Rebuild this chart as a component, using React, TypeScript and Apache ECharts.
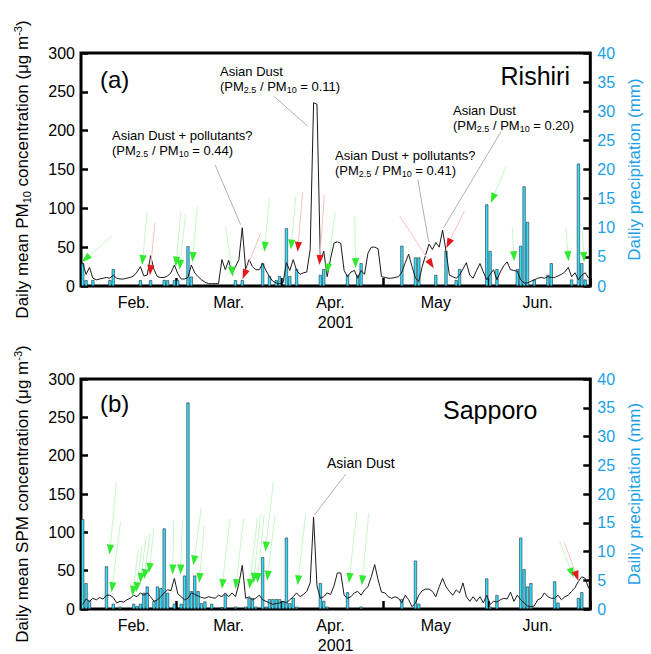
import React, { useEffect, useRef } from 'react';
import * as echarts from 'echarts';

const FONT = '"Liberation Sans", Arial, Helvetica, sans-serif';
const BAR_FILL = '#38dcff';
const RAIN_BLUE = '#1ba1e6';

// ---------- axes / categories ----------
const monthLengths = [28, 31, 30, 31, 30];
const monthNames = ['Feb.', 'Mar.', 'Apr.', 'May', 'Jun.'];
const monthLabelAt = [15, 43, 73, 104, 134];
const yearLabel = '2001';
const concTicks = { min: 0, max: 300, interval: 50 };
const rainTicks = { min: 0, max: 40, interval: 5 };

// ---------- (a) Rishiri ----------
const rishiriPM10 = [
  30, 15, 24, 10, 8, 9, 10, 11, 10, 14,
  10, 9, 9, 10, 11, 13, 18, 25, 13, 14,
  39, 21, 12, 11, 11, 13, 17, 27, 16, 9,
  9, 11, 27, 17, 12, 8, 5, 3, 3, 3,
  3, 34, 21, 33, 16, 25, 34, 75, 21, 34,
  25, 21, 21, 29, 20, 12, 6, 4, 3, 4,
  30, 20, 34, 20, 15, 17, 18, 47, 236, 234,
  32, 45, 12, 35, 55, 57, 55, 20, 12, 18,
  20, 10, 20, 15, 42, 50, 50, 48, 12, 11,
  10, 10, 11, 12, 18, 30, 41, 25, 10, 6,
  25, 40, 54, 47, 56, 50, 72, 45, 14, 12,
  10, 14, 22, 30, 14, 10, 20, 29, 18, 8,
  15, 21, 8, 18, 26, 31, 21, 20, 19, 8,
  4, 4, 6, 8, 10, 11, 10, 12, 11, 11,
  13, 15, 18, 24, 12, 17, 8, 14, 17, 10,
];
const rishiriRain = [
  3.9, 1.0, 0, 1.0, 0, 0, 0, 0, 1.0, 2.9,
  0, 0, 0, 0, 0, 0, 0, 1.0, 0, 0,
  1.0, 0, 0, 0, 1.0, 1.0, 0, 1.0, 1.0, 0,
  0, 6.8, 1.6, 0, 0, 0, 0, 0, 0, 0,
  0, 0, 0, 0, 0, 1.0, 0, 1.0, 0, 0,
  0, 0, 0, 3.9, 0, 1.7, 0, 1.0, 1.7, 0,
  9.9, 1.7, 0, 2.9, 0, 0, 0, 0, 0, 0,
  1.9, 2.9, 0, 0, 0, 0, 0, 0, 1.9, 0,
  0, 1.9, 3.9, 0, 0, 0, 0, 0, 0, 0,
  0, 0, 0, 0, 6.9, 0, 0, 0, 4.9, 4.9,
  0, 0, 0, 0, 1.9, 0, 0, 6.0, 0, 0,
  1.0, 2.9, 0, 0, 0, 0, 0, 0, 0, 14.0,
  6.0, 0, 2.9, 0, 0, 0, 0, 0, 2.9, 6.9,
  17.1, 11.0, 0, 1.1, 0, 0, 0, 1.9, 3.9, 0,
  0, 0, 0, 0, 1.1, 0, 21.0, 3.9, 1.1, 0,
];
// arrows: [day position, concentration at tip, tail dx, tail dy, 0 = green / 1 = red]
const rishiriArrows = [
  [0.3, 31, 30, -26, 0], [18.0, 27, 5, -53, 0], [20.3, 14, 5, -52, 1],
  [27.9, 25, 5, -55, 0], [29.0, 21, 6, -55, 0], [32.8, 31, 5, -55, 0],
  [44.7, 12, -7, -50, 0], [47.6, 9, 18, -46, 1], [54.0, 44, 5, -53, 0],
  [61.8, 47, 5, -53, 0], [63.8, 44, 5, -60, 1], [70.2, 27, 5, -70, 1],
  [72.5, 16, 8, -62, 0], [80.9, 23, -1, -52, 0], [103.9, 23, -34, -52, 1],
  [107.6, 49, 18, -37, 1], [120.7, 107, 15, -36, 0], [127.6, 32, -2, -34, 0],
  [143.6, 32, -3, -34, 0], [148.2, 31, -2, -32, 0],
];
// leader lines: [day1, conc1, day2, conc2]
const rishiriLeaders = [
  [39.5, 156, 47.0, 79], [56.9, 244, 66.7, 206],
  [99.2, 137, 102.4, 57], [123.6, 198, 106.8, 75],
];

// ---------- (b) Sapporo ----------
const sapporoSPM = [
  6, 13, 10, 14, 12, 15, 13, 18, 18, 15,
  8, 10, 9, 12, 14, 18, 16, 21, 18, 21,
  16, 10, 12, 16, 21, 25, 24, 40, 20, 16,
  12, 14, 21, 19, 17, 15, 14, 16, 15, 14,
  18, 16, 21, 16, 21, 16, 33, 57, 14, 16,
  12, 14, 18, 12, 10, 8, 6, 7, 8, 10,
  8, 12, 16, 21, 16, 19, 23, 34, 120, 30,
  14, 16, 21, 19, 30, 47, 47, 18, 14, 16,
  21, 23, 18, 25, 29, 42, 58, 38, 22, 21,
  16, 14, 16, 14, 8, 18, 12, 3, 8, 18,
  24, 26, 26, 23, 16, 29, 40, 29, 23, 18,
  25, 21, 34, 16, 10, 16, 10, 16, 8, 18,
  6, 10, 9, 12, 14, 13, 22, 10, 18, 12,
  8, 4, 3, 4, 12, 14, 21, 16, 14, 14,
  18, 12, 16, 18, 23, 28, 36, 42, 40, 27,
];
const sapporoRain = [
  15.6, 4.5, 1.4, 0, 0, 0, 0, 7.4, 0, 0.9,
  0, 0.4, 0, 0, 0, 0.9, 0.5, 0.9, 2.8, 3.9,
  0, 1.4, 3.9, 3.6, 14.0, 2.8, 0, 0.9, 0, 0.9,
  5.8, 35.9, 3.1, 5.8, 3.1, 1.0, 1.3, 0, 0.9, 0,
  0, 0.3, 2.5, 0, 0, 0.4, 0, 0, 0.4, 1.9,
  1.9, 0.4, 0, 9.0, 0.4, 1.7, 1.7, 1.7, 1.7, 1.3,
  12.4, 1.0, 1.9, 0.4, 0, 0, 0, 0, 0, 0,
  4.5, 1.4, 0.4, 0, 0, 0, 0, 0, 2.9, 0,
  0, 0, 0.4, 0, 0, 0, 0, 0, 0, 0,
  0, 0, 0, 0, 1.7, 0, 0, 0, 8.4, 0.9,
  0, 0, 0, 0, 0, 0, 0, 0, 0, 0,
  0, 0, 0, 0, 0, 0, 0, 0, 0, 5.3,
  0.4, 0, 2.4, 0, 0, 0, 0, 0, 0, 12.4,
  6.9, 3.9, 4.5, 0, 0, 0, 0, 0, 0, 4.8,
  1.1, 0, 0, 0, 0, 0, 1.9, 2.9, 0, 0,
];
const sapporoArrows = [
  [8.4, 71, 7, -72, 0], [9.0, 22, 9, -70, 0], [15.1, 17, 6, -46, 0],
  [16.2, 22, 6, -46, 0], [17.4, 34, 6, -46, 0], [18.6, 39, 6, -46, 0],
  [20.0, 47, 5, -44, 0], [27.0, 45, 1, -54, 0], [29.3, 45, 2, -54, 0],
  [33.1, 57, 8, -58, 0], [34.8, 34, 5, -57, 0], [41.5, 26, 8, -70, 0],
  [45.5, 26, 8, -70, 0], [49.6, 26, 8, -71, 0], [50.8, 34, 7, -69, 0],
  [51.9, 34, 7, -69, 0], [54.3, 75, 8, -70, 0], [54.8, 37, 8, -66, 0],
  [63.8, 31, 8, -71, 0], [78.9, 34, 8, -71, 0], [82.7, 31, 7, -72, 0],
  [145.1, 41, -14, -36, 0], [146.5, 37, -14, -38, 1],
];
const sapporoLeaders = [[78.0, 176, 68.8, 123]];

// ---------- helpers ----------
const categories: string[] = [];
const monthStarts: number[] = [];
monthLengths.forEach((len, m) => {
  monthStarts.push(categories.length);
  for (let d = 1; d <= len; d++) categories.push(`${m + 2}/${d}`);
});
const totalDays = categories.length;

const GRIDS = [
  { left: 81, top: 53, width: 517, height: 233 },
  { left: 81, top: 379, width: 517, height: 232 },
];

const arrowRender = (_p: any, api: any) => {
  const tip = api.coord([api.value(0), api.value(1)]);
  const dx = api.value(2);
  const dy = api.value(3);
  const red = api.value(4) === 1;
  const len = Math.hypot(dx, dy) || 1;
  const ux = dx / len;
  const uy = dy / len;
  const L = 10;
  const W = 3.6;
  const bx = tip[0] + ux * L;
  const by = tip[1] + uy * L;
  return {
    type: 'group',
    children: [
      {
        type: 'line',
        shape: { x1: bx, y1: by, x2: tip[0] + dx, y2: tip[1] + dy },
        style: { stroke: red ? '#f8c2c2' : '#c8f7c8', lineWidth: 1 },
      },
      {
        type: 'polygon',
        shape: { points: [[tip[0], tip[1]], [bx - uy * W, by + ux * W], [bx + uy * W, by - ux * W]] },
        style: { fill: red ? '#e3191c' : '#30ea30' },
      },
    ],
  };
};

const leaderRender = (_p: any, api: any) => {
  const a = api.coord([api.value(0), api.value(1)]);
  const b = api.coord([api.value(2), api.value(3)]);
  return {
    type: 'line',
    shape: { x1: a[0], y1: a[1], x2: b[0], y2: b[1] },
    style: { stroke: '#9c9c9c', lineWidth: 0.8 },
  };
};

const richSubSup = {
  sub: { fontSize: 11, fontFamily: FONT, verticalAlign: 'bottom', color: '#000' },
  sup: { fontSize: 11, fontFamily: FONT, verticalAlign: 'top', color: '#000' },
};

const makeText = (text: string, x: number, y: number, size: number, align: string, vAlign: string, lh?: number) => ({
  type: 'text',
  x,
  y,
  z: 10,
  style: {
    text,
    fontSize: size,
    fontFamily: FONT,
    fill: '#000',
    align,
    verticalAlign: vAlign,
    textAlign: align,
    textVerticalAlign: vAlign,
    lineHeight: lh ?? Math.round(size * 1.15),
    rich: {
      s: { fontSize: Math.round(size * 0.68), fontFamily: FONT, fill: '#000', verticalAlign: 'bottom' },
    },
  },
});

function buildOption() {
  const xAxis: any[] = [];
  const yAxis: any[] = [];
  const series: any[] = [];
  const panels = [
    { conc: rishiriPM10, rain: rishiriRain, arrows: rishiriArrows, leaders: rishiriLeaders, name: 'Daily mean PM{sub|10} concentration (μg m{sup|-3})' },
    { conc: sapporoSPM, rain: sapporoRain, arrows: sapporoArrows, leaders: sapporoLeaders, name: 'Daily mean SPM concentration (μg m{sup|-3})' },
  ];
  panels.forEach((p, i) => {
    xAxis[i] = {
      type: 'category',
      gridIndex: i,
      data: categories,
      boundaryGap: true,
      axisLine: { show: false },
      axisTick: {
        show: true,
        inside: true,
        length: 8,
        interval: (idx: number) => monthStarts.includes(idx) && idx > 0,
        lineStyle: { color: '#000', width: 2.5 },
      },
      axisLabel: {
        interval: (idx: number) => monthLabelAt.includes(idx),
        formatter: (_v: string, idx: number) => monthNames[monthLabelAt.indexOf(idx)] ?? '',
        fontSize: 16,
        fontFamily: FONT,
        color: '#000',
        margin: 8,
      },
      splitLine: { show: false },
      name: yearLabel,
      nameLocation: 'middle',
      nameGap: 28,
      nameTextStyle: { fontSize: 16, fontFamily: FONT, color: '#000' },
    };
    xAxis[2 + i] = { type: 'value', gridIndex: i, min: 0, max: totalDays, show: false };
    yAxis[2 * i] = {
      type: 'value',
      gridIndex: i,
      position: 'left',
      ...concTicks,
      axisLine: { show: false },
      axisTick: { show: true, inside: true, length: 7, lineStyle: { color: '#000', width: 2.5 } },
      axisLabel: { fontSize: 16, fontFamily: FONT, color: '#000', margin: 6 },
      splitLine: { show: false },
      name: p.name,
      nameLocation: 'middle',
      nameRotate: 90,
      nameGap: 49,
      nameTextStyle: { fontSize: 17, fontFamily: FONT, color: '#000', lineHeight: 20, rich: richSubSup },
    };
    yAxis[2 * i + 1] = {
      type: 'value',
      gridIndex: i,
      position: 'right',
      ...rainTicks,
      axisLine: { show: false },
      axisTick: { show: true, inside: true, length: 7, lineStyle: { color: '#000', width: 2.5 } },
      axisLabel: { fontSize: 16, fontFamily: FONT, color: RAIN_BLUE, margin: 7 },
      splitLine: { show: false },
      name: 'Dailiy precipitation (mm)',
      nameLocation: 'middle',
      nameRotate: 90,
      nameGap: 30,
      nameTextStyle: { fontSize: 17, fontFamily: FONT, color: RAIN_BLUE },
    };
    series.push({
      type: 'bar',
      xAxisIndex: i,
      yAxisIndex: 2 * i + 1,
      data: p.rain.map((v) => (v > 0 ? v : '-')),
      barWidth: 3,
      itemStyle: { color: BAR_FILL, borderColor: '#111', borderWidth: 0.5 },
      z: 2,
      silent: true,
    });
    series.push({
      type: 'line',
      xAxisIndex: i,
      yAxisIndex: 2 * i,
      data: p.conc,
      symbol: 'none',
      showSymbol: false,
      lineStyle: { color: '#1a1a1a', width: 1 },
      z: 3,
      silent: true,
    });
    series.push({
      type: 'custom',
      xAxisIndex: 2 + i,
      yAxisIndex: 2 * i,
      data: p.leaders,
      dimensions: ['x1', 'y1', 'x2', 'y2'],
      encode: { x: [0, 2], y: [1, 3] },
      renderItem: leaderRender,
      clip: false,
      silent: true,
      z: 4,
    });
    series.push({
      type: 'custom',
      xAxisIndex: 2 + i,
      yAxisIndex: 2 * i,
      data: p.arrows,
      dimensions: ['x', 'y', 'dx', 'dy', 'c'],
      encode: { x: 0, y: 1 },
      renderItem: arrowRender,
      clip: false,
      silent: true,
      z: 5,
    });
  });

  const graphic = [
    makeText('(a)', 100, 79, 24, 'left', 'middle'),
    makeText('Rishiri', 570, 76, 25, 'right', 'middle'),
    makeText('Asian Dust\n(PM{s|2.5} / PM{s|10} = 0.11)', 220, 64, 13, 'left', 'top', 15),
    makeText('Asian Dust + pollutants?\n(PM{s|2.5} / PM{s|10} = 0.44)', 112, 128, 13, 'left', 'top', 15),
    makeText('Asian Dust + pollutants?\n(PM{s|2.5} / PM{s|10} = 0.41)', 335, 148, 13, 'left', 'top', 15),
    makeText('Asian Dust\n(PM{s|2.5} / PM{s|10} = 0.20)', 453, 103, 13, 'left', 'top', 15),
    makeText('(b)', 100, 403, 24, 'left', 'middle'),
    makeText('Sapporo', 443, 410, 25, 'left', 'middle'),
    makeText('Asian Dust', 327, 455, 14, 'left', 'top', 16),
  ];

  return {
    animation: false,
    backgroundColor: '#fff',
    textStyle: { fontFamily: FONT },
    grid: GRIDS.map((g) => ({ ...g, show: true, borderColor: '#000', borderWidth: 3, backgroundColor: 'transparent', containLabel: false })),
    xAxis,
    yAxis,
    series,
    graphic,
  };
}

export default function App() {
  const ref = useRef<HTMLDivElement>(null);
  useEffect(() => {
    if (!ref.current) return;
    const chart = echarts.init(ref.current, null, { renderer: 'svg' });
    chart.setOption(buildOption() as any);
    return () => chart.dispose();
  }, []);
  return (
    <div
      ref={ref}
      style={{ position: 'fixed', left: 0, top: 0, width: 651, height: 654, background: '#fff' }}
    />
  );
}
